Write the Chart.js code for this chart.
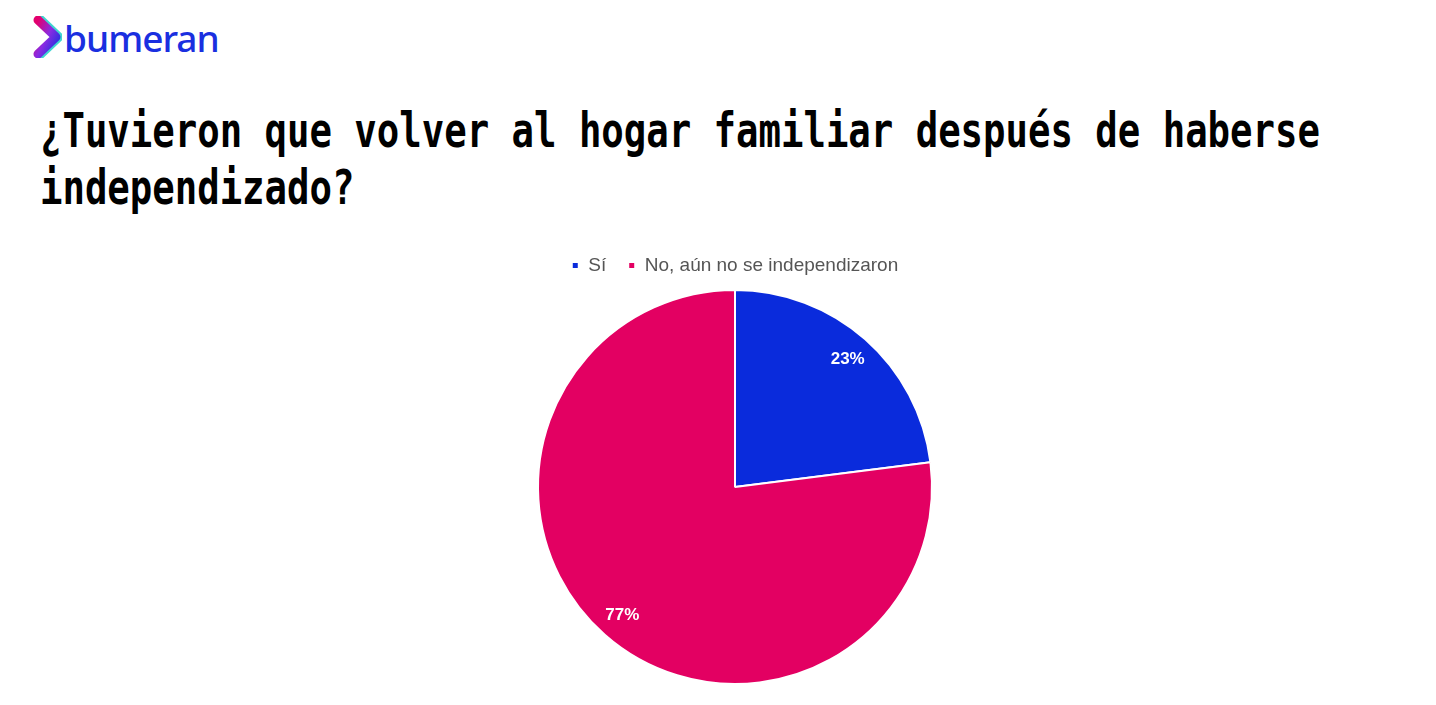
<!DOCTYPE html>
<html>
<head>
<meta charset="utf-8">
<script src="https://cdn.jsdelivr.net/npm/chart.js@4.4.1/dist/chart.umd.min.js"></script>
<style>
  html, body { margin: 0; padding: 0; background: #fff; }
  body { width: 1436px; height: 705px; position: relative; overflow: hidden; }
  .logo { position: absolute; left: 32px; top: 16px; display: flex; align-items: center; }
  .logo span { font-family: "Noto Sans", sans-serif; font-size: 37px; font-weight: 500; color: #1a2fe0; letter-spacing: -1px; margin-left: 2px; line-height: 1; }
  .title {
    position: absolute; left: 40px; top: 102px;
    font-family: "DejaVu Sans Mono", monospace; font-weight: bold;
    font-size: 48px; line-height: 57px; color: #000;
    transform: scaleX(0.777); transform-origin: left top; white-space: nowrap;
  }
  #wrap { position: absolute; left: 34px; top: 234px; width: 1402px; height: 471px; }
</style>
</head>
<body>
<div class="logo">
  <svg width="30" height="42" viewBox="0 0 30 42">
    <defs>
      <linearGradient id="g" x1="0" y1="0" x2="1" y2="1">
        <stop offset="0" stop-color="#e3006d"/>
        <stop offset="0.5" stop-color="#8a2be2"/>
        <stop offset="1" stop-color="#1a2fe0"/>
      </linearGradient>
    </defs>
    <path d="M6 4 L24 21 L6 38" fill="none" stroke="#3fd5d0" stroke-width="9" stroke-linecap="round" stroke-linejoin="round" transform="translate(3,0)"/>
    <path d="M6 4 L24 21 L6 38" fill="none" stroke="url(#g)" stroke-width="9" stroke-linecap="round" stroke-linejoin="round"/>
  </svg>
  <span>bumeran</span>
</div>
<div class="title">¿Tuvieron que volver al hogar familiar después de haberse<br>independizado?</div>
<div id="wrap"><canvas id="pieChart"></canvas></div>
<script>
// Categories and values (percent)
const categories = ['Sí', 'No, aún no se independizaron'];
const values = [23, 77];
const sliceColors = ['#0a2bdc', '#e30062'];

// Draws the percent labels inside each slice
const sliceLabels = {
  id: 'sliceLabels',
  afterDatasetsDraw(chart) {
    const ctx = chart.ctx;
    const meta = chart.getDatasetMeta(0);
    const total = values.reduce((a, b) => a + b, 0);
    ctx.save();
    ctx.font = 'bold 17px "Liberation Sans", Arial, sans-serif';
    ctx.fillStyle = '#fff';
    ctx.textAlign = 'center';
    ctx.textBaseline = 'middle';
    meta.data.forEach((arc, i) => {
      const mid = (arc.startAngle + arc.endAngle) / 2;
      const r = arc.outerRadius * 0.865;
      const x = arc.x + Math.cos(mid) * r;
      const y = arc.y + Math.sin(mid) * r;
      ctx.fillText(Math.round(values[i] / total * 100) + '%', x, y);
    });
    ctx.restore();
  }
};

// Add a bit of space under the legend before the pie
const legendGap = {
  id: 'legendGap',
  beforeUpdate(chart) {
    const lg = chart.legend;
    if (lg && !lg._gap) {
      const fit = lg.fit.bind(lg);
      lg.fit = function () { fit(); this.height += 4; };
      lg._gap = true;
    }
  }
};

const ctx = document.getElementById('pieChart').getContext('2d');
new Chart(ctx, {
  type: 'pie',
  data: {
    labels: categories,
    datasets: [{
      data: values,
      backgroundColor: sliceColors,
      borderColor: '#fff',
      borderWidth: 2,
    }],
  },
  options: {
    responsive: true,
    maintainAspectRatio: false,
    animation: false,
    layout: { padding: { top: 0, bottom: 20 } },
    plugins: {
      legend: {
        display: true,
        position: 'top',
        labels: {
          color: '#555',
          boxWidth: 7,
          boxHeight: 7,
          padding: 22,
          font: { size: 19, family: '"Liberation Sans", Arial, sans-serif' },
        },
      },
      tooltip: { enabled: false },
    },
  },
  plugins: [sliceLabels, legendGap],
});
</script>
</body>
</html>
